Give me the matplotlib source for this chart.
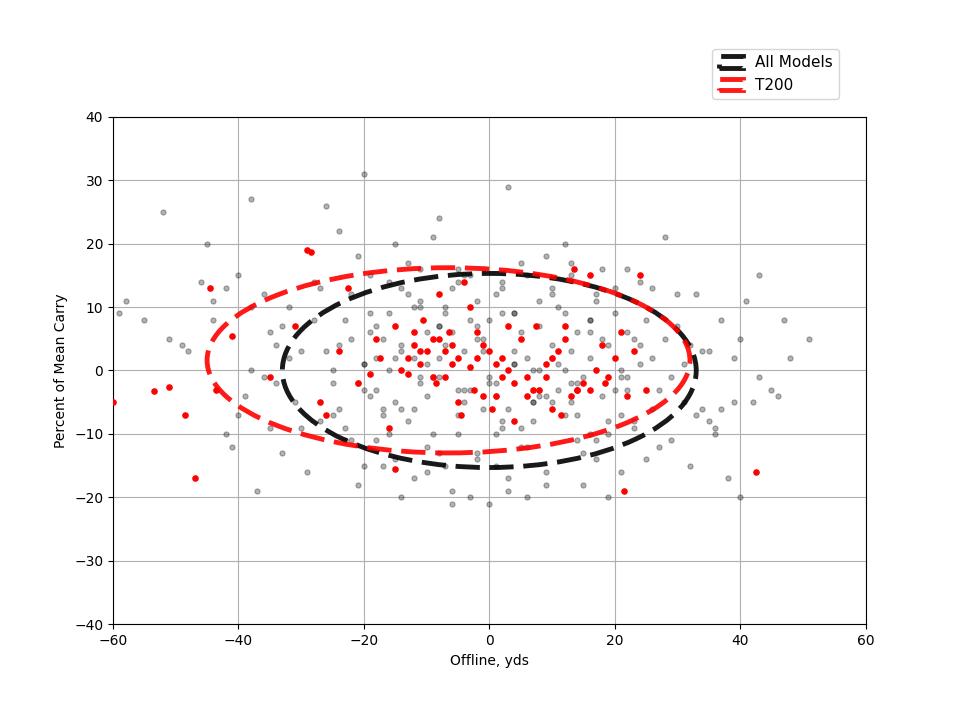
import matplotlib
matplotlib.use("Agg")
import matplotlib.pyplot as plt
from matplotlib.patches import Ellipse, Rectangle

# All models shots (offline yds, percent of mean carry) - representative readings
all_x = [-59,-58,-55,-52,-51,-49,-48,-46,-45,-44,-42,-41,-40,-39,-38,-37,-36,-35,-34,-33,
         -32,-31,-30,-29,-28,-27,-26,-25,-24,-23,-22,-21,-20,-19,-18,-17,-16,-15,-14,-13,
         -12,-11,-10,-9,-8,-7,-6,-5,-4,-3,-2,-1,0,1,2,3,4,5,6,7,8,9,10,11,12,13,14,15,16,17,
         18,19,20,21,22,23,24,25,26,27,28,29,30,31,32,33,34,35,36,37,38,39,40,41,42,43,45,47,51,
         -38,-34,-30,-27,-24,-21,-18,-15,-12,-9,-6,-3,0,3,6,9,12,15,18,21,24,27,30,33,36,
         -36,-32,-28,-25,-22,-19,-16,-13,-10,-7,-4,-1,2,5,8,11,14,17,20,23,26,29,32,35,39,
         -26,-23,-20,-17,-14,-11,-8,-5,-2,1,4,7,10,13,16,19,22,25,28,
         -25,-22,-19,-16,-13,-10,-7,-4,-1,2,5,8,11,14,17,20,23,26,
         -20,-17,-14,-11,-8,-5,-2,1,4,7,10,13,16,19,22,
         -19,-15,-11,-7,-3,1,5,9,13,17,21,-20,-8,-18,-10,3,8,-5,2,
         -24,-21,-18,-15,-12,-9,-6,-3,0,3,6,9,12,15,18,21,24,
         -23,-20,-17,-14,-11,-8,-5,-2,1,4,7,10,13,16,19,22,
         -16,-12,-8,-4,0,4,8,12,16,-14,-10,-6,-2,2,6,10,14,
         -44,-42,-40,-38,-35,-33,31,34,37,40,43,46,48]
all_y = [9,11,8,25,5,4,3,14,20,8,13,-12,15,-4,27,-19,12,6,-2,-13,
         10,-5,3,-16,14,-8,26,0,22,-11,12,-18,31,6,-3,-15,9,2,-20,17,
         -6,11,1,-10,24,4,-19,14,-3,8,-14,5,-1,12,-8,29,3,-12,15,-5,7,-18,2,10,-7,17,-2,-13,6,11,
         -4,-20,9,0,16,-9,4,-14,13,-3,21,-11,7,1,-15,12,-6,3,-10,8,-17,2,-20,11,-5,15,-3,8,5,
         10,4,-9,13,-6,18,-11,20,-17,21,-21,-20,-21,-19,-20,18,20,-18,16,-16,14,-12,12,-7,-9,
         -1,2,8,-2,5,-4,14,-8,6,10,-5,3,-9,6,-4,1,-7,12,-3,5,-6,-1,4,-8,-5,
         3,8,-3,5,-6,10,2,-7,7,-2,9,0,-5,3,-10,4,-1,8,5,
         -7,-11,9,-10,12,-4,9,15,-6,13,-9,11,-3,6,-11,13,-8,2,
         1,-6,4,-1,7,-3,5,-10,1,-5,4,-2,8,-8,-3,
         15,-14,16,-15,15,-15,17,-16,15,-14,-1,-15,-13,2,-16,-17,0,16,9,
         4,-2,7,-5,10,-1,6,-3,8,-6,2,-4,9,-1,5,-7,1,
         -9,1,-7,3,-2,7,-10,11,-4,9,-8,12,-5,8,-10,6,
         0,2,-1,3,-2,1,-3,0,2,13,-12,13,-13,14,-12,13,-11,
         11,-10,-7,0,-9,7,-5,3,-6,5,-1,-4,2]

# T200 shots
t_x = [-60,-53.5,-51,-48.5,-47,-44.5,-43.5,-41,-35,-31,-29,-28.5,-27,-26,-24,-22.5,-21,-19,-17.5,-16,
       -15,-14,-13,-12,-11,-10.5,-10,-9,-8.5,-8,-7,-6.5,-6,-5,-4.5,-4,-3,-2.5,-2,-1,0,0.5,1,2,3,
       4,5,6,7,7.5,8,9,10,11,11.5,12,13,13.5,14,15,16,17,18,18.5,19,20,21,22,23,24,25,
       -12,-9,-7,-5,-3,-1,2,4,6,9,12,14,-18,-13,-11,-8,-2,1,10,16,21.5,42.5,-15,-6,3]
t_y = [-5,-3.3,-2.6,-7,-17,13,-3,5.5,-1,7,19,18.7,-5,-7,3,13,-2,-0.5,2,-9,
       7,0,2,6,1,8,3,5,-2,12,-1,6,4,-5,-7,14,10,-3,2,-4,3,-6,1,-1,0,
       -2,5,-4,-3,7,-3,-1,-6,3,-7,5,-4,16,-3,-2,15,0,4,-2,-1,2,6,-4,3,15,-3,
       4,-1,3,2,0.5,4,2,-8,-1,1,7,-3,5,-0.5,3,5,6,-4,2,-3,-19,-16,-15.5,1,7]

fig = plt.figure(figsize=(9.66, 7.25), dpi=100)
ax = fig.add_axes([0.117, 0.139, 0.779, 0.700])
ax.scatter(all_x, all_y, s=14, color="black", alpha=0.3, edgecolors="black", linewidths=0.8, zorder=2)
ax.scatter(t_x, t_y, s=14, color="red", zorder=3)

e1 = Ellipse((0, 0), 66, 30.6, fill=False, edgecolor="black", lw=3.5, ls=(0, (5, 2)), alpha=0.9, zorder=4)
e2 = Ellipse((-6.5, 1.6), 77, 29.2, fill=False, edgecolor="red", lw=3.5, ls=(0, (5, 2)), alpha=0.9, zorder=4)
ax.add_patch(e1)
ax.add_patch(e2)

h1 = Rectangle((0, 0), 1, 1, fill=False, edgecolor="black", lw=3.5, ls=(0, (5, 2)), alpha=0.9)
h2 = Rectangle((0, 0), 1, 1, fill=False, edgecolor="red", lw=3.5, ls=(0, (5, 2)), alpha=0.9)

ax.set_xlim(-60, 60)
ax.set_ylim(-40, 40)
ax.set_xticks(range(-60, 61, 20))
ax.set_yticks(range(-40, 41, 10))
ax.grid(True, zorder=0)
ax.set_axisbelow(True)
ax.set_xlabel("Offline, yds")
ax.set_ylabel("Percent of Mean Carry")
ax.legend(handles=[h1, h2], labels=["All Models", "T200"], loc="lower right",
          bbox_to_anchor=(0.975, 1.02), fontsize=11, handlelength=1.6, handleheight=0.8)
fig.savefig("out.png", dpi=100)
